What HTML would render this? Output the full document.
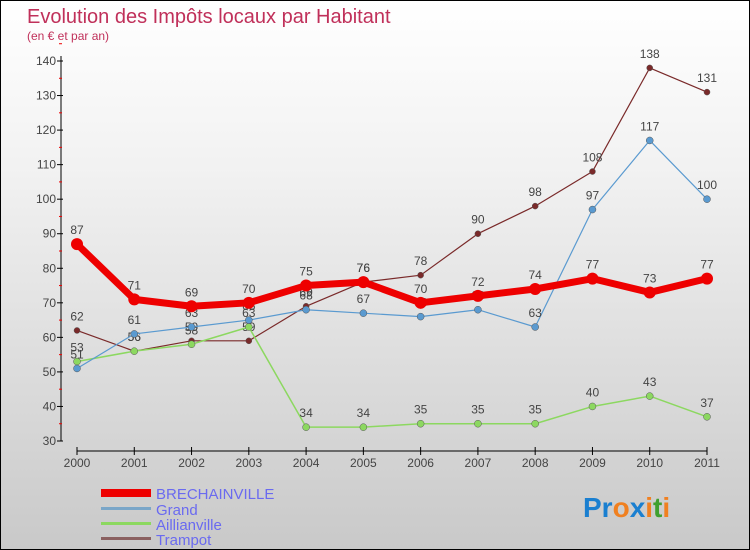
<!DOCTYPE html>
<html><head><meta charset="utf-8"><style>
body{margin:0}
#c{width:748px;height:548px;border:1px solid #000;background:linear-gradient(#fff,#f2f2f2 30%,#c9c9c9);position:relative;font-family:"Liberation Sans",sans-serif;overflow:hidden}
</style></head><body>
<div id="c">
<svg id="s" width="748" height="548" style="position:absolute;left:0;top:0">
<text x="26" y="22" font-size="20" fill="#c0305a">Evolution des Impôts locaux par Habitant</text>
<text x="26" y="39" font-size="12" fill="#c0305a">(en € et par an)</text>
<g id="g"></g>
<g>
<rect x="100" y="488" width="50" height="8" fill="#e00"/>
<text x="155" y="498" font-size="15" fill="#6a6af0">BRECHAINVILLE</text>
<rect x="100" y="506" width="50" height="3" fill="#7aa6c8"/>
<text x="155" y="514" font-size="15" fill="#6a6af0">Grand</text>
<rect x="100" y="521" width="50" height="3" fill="#8cd860"/>
<text x="155" y="529" font-size="15" fill="#6a6af0">Aillianville</text>
<rect x="100" y="536" width="50" height="3" fill="#8a6060"/>
<text x="155" y="544" font-size="15" fill="#6a6af0">Trampot</text>
</g>
<text x="582" y="516" font-size="28" font-weight="bold"><tspan fill="#1a7fd0">Pr</tspan><tspan fill="#f08020">o</tspan><tspan fill="#1a7fd0">x</tspan><tspan fill="#f08020">i</tspan><tspan fill="#40a030">t</tspan><tspan fill="#f08020">i</tspan></text>
</svg>
</div>
<script>
const years=["2000","2001","2002","2003","2004","2005","2006","2007","2008","2009","2010","2011"];
const yTicks=[30,40,50,60,70,80,90,100,110,120,130,140];
const brechainville=[87,71,69,70,75,76,70,72,74,77,73,77];
const grand=[51,61,63,65,68,67,66,68,63,97,117,100];
const aillianville=[53,56,58,63,34,34,35,35,35,40,43,37];
const trampot=[62,56,59,59,69,76,78,90,98,108,138,131];
const NS="http://www.w3.org/2000/svg";
const g=document.getElementById('g');
const x=i=>76+i*(630/11);
const y=v=>440-(v-30)*(380/110);
function mk(t,a){const e=document.createElementNS(NS,t);for(const k in a)e.setAttribute(k,a[k]);g.appendChild(e);return e;}
let e=mk('line',{x1:60,y1:55,x2:60,y2:440,stroke:'#000'});


e=mk('line',{x1:76,y1:450,x2:706,y2:450,stroke:'#000'});


yTicks.forEach(v=>{
 let t=mk('line',{x1:56,y1:y(v),x2:62,y2:y(v),stroke:'#000'});
 
 
 let m=mk('line',{x1:58,y1:y(v+5),x2:61,y2:y(v+5),stroke:'#e00'});
 
 
 let l=mk('text',{x:55,y:y(v)+4,'font-size':12,fill:'#444','text-anchor':'end'});l.textContent=v;
 
 
});
years.forEach((yr,i)=>{
 let t=mk('line',{x1:x(i),y1:446,x2:x(i),y2:454,stroke:'#000'});
 
 
 let l=mk('text',{x:x(i),y:466,'font-size':12,fill:'#444','text-anchor':'middle'});l.textContent=yr;
 
 
});
function series(d,col,w,r,name){
 let p=mk('polyline',{points:d.map((v,i)=>x(i)+','+y(v)).join(' '),fill:'none',stroke:col,'stroke-width':w,'stroke-linejoin':'round'});
 
 
 d.forEach((v,i)=>{
  let c=mk('circle',{cx:x(i),cy:y(v),r:r,fill:col,stroke:w>3?'none':'#555','stroke-width':0.5});
  
  
  let l=mk('text',{x:x(i),y:y(v)-10,'font-size':12,fill:'#444','text-anchor':'middle'});l.textContent=v;
  
  
 });
}
series(trampot,'#7a2a2a',1.2,3,'trampot');
series(aillianville,'#8cd860',1.5,3.5,'aillianville');
series(grand,'#5a9ad0',1.2,3.5,'grand');
series(brechainville,'#ee0000',7,6,'brechainville');
</script>
</body></html>
